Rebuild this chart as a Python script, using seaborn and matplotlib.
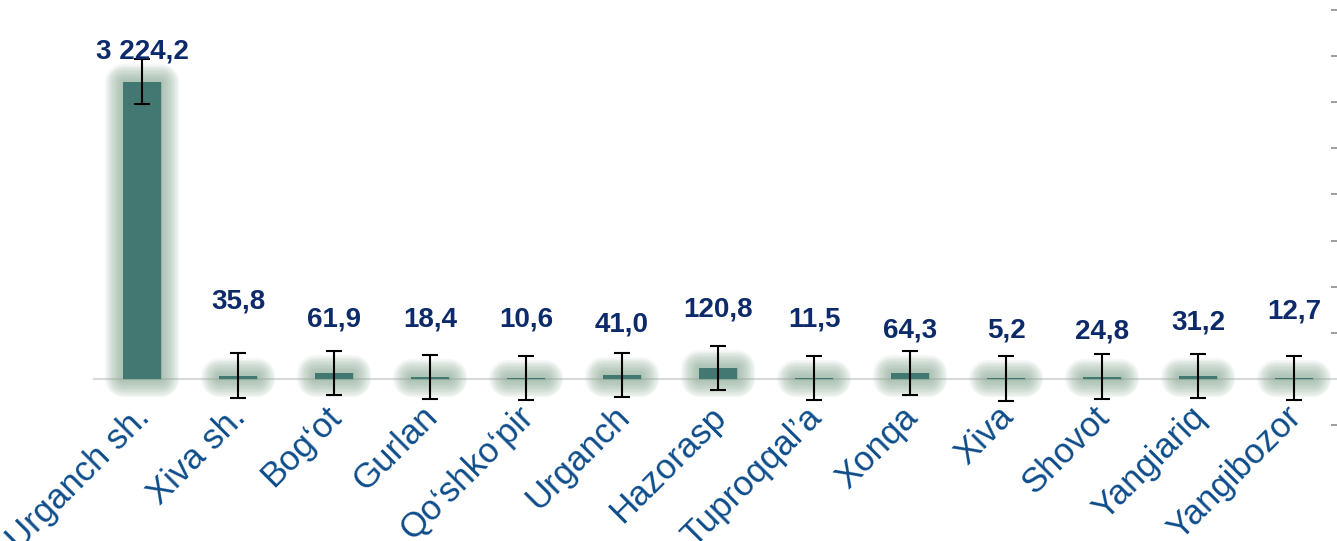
import numpy as np
import pandas as pd
import matplotlib
matplotlib.use("Agg")
import matplotlib.pyplot as plt
import matplotlib.patheffects as pe
import seaborn as sns

# districts and values
districts = ["Urganch sh.", "Xiva sh.", "Bog\u2018ot", "Gurlan", "Qo\u2018shko\u2018pir",
             "Urganch", "Hazorasp", "Tuproqqal\u2019a", "Xonqa", "Xiva",
             "Shovot", "Yangiariq", "Yangibozor"]
values = [3224.2, 35.8, 61.9, 18.4, 10.6, 41.0, 120.8, 11.5, 64.3, 5.2, 24.8, 31.2, 12.7]
errors = [240, 240, 240, 240, 240, 240, 240, 240, 240, 240, 240, 240, 240]
value_labels = ["3 224,2", "35,8", "61,9", "18,4", "10,6", "41,0", "120,8",
                "11,5", "64,3", "5,2", "24,8", "31,2", "12,7"]
# label offset above bar top (pixels), placed by hand in the original
label_dy = [30, 74, 54, 58, 58, 51, 58, 58, 42, 48, 45, 54, 66]

sns.set_style("white")
plt.rcParams['font.family'] = ['Liberation Sans', 'DejaVu Sans']

df = pd.DataFrame({"district": districts, "value": values})

fig = plt.figure(figsize=(13.37, 5.41), dpi=100)
ax = fig.add_axes([94 / 1337, 1 - 425 / 541, 1248 / 1337, 415 / 541])

sns.barplot(data=df, x="district", y="value", color="#437772", width=0.4,
            errorbar=None, saturation=1, ax=ax, zorder=3)

# soft glow round each bar
glow = "#8FAE99"
effects = [pe.Stroke(linewidth=lw, foreground=glow, alpha=0.085, joinstyle="round")
           for lw in range(26, 1, -2)]
effects.append(pe.Normal())
for bar in ax.patches:
    bar.set_edgecolor("none")
    bar.set_path_effects(effects)

x = np.arange(len(districts))
ax.errorbar(x, values, yerr=errors, fmt="none", ecolor="black",
            elinewidth=1.5, capsize=6, capthick=1.5, zorder=5)

for i, (v, lab) in enumerate(zip(values, value_labels)):
    ax.annotate(lab, xy=(i, v), xytext=(0, label_dy[i]), textcoords="offset pixels",
                ha="center", va="center", fontsize=20, fontweight="bold",
                color="#0D2A6B", zorder=6)

ax.set_xlim(-0.5, len(districts) - 0.5)
ax.set_ylim(-500, 4000)

for s in ["top", "left", "right"]:
    ax.spines[s].set_visible(False)
ax.spines["bottom"].set_position(("data", 0))
ax.spines["bottom"].set_color("#D9D9D9")
ax.spines["bottom"].set_linewidth(1.5)

ax.set_xticks(x)
ax.set_xticklabels(districts, rotation=45, ha="right", va="center_baseline",
                   rotation_mode="anchor", fontsize=25, color="#0E4D8A")
ax.tick_params(axis="x", which="major", length=0, pad=22)
ax.set_xticks(np.arange(-0.5, len(districts)), minor=True)
ax.tick_params(axis="x", which="minor", length=8, width=1.5, color="#D9D9D9", direction="out")

ax.yaxis.tick_right()
ax.set_yticks(np.arange(-500, 4001, 500))
ax.tick_params(axis="y", direction="in", length=8, width=1.2, color="#8C8C8C",
               labelright=False, labelleft=False)

ax.set_xlabel("")
ax.set_ylabel("")

fig.savefig("out.png", dpi=100)
